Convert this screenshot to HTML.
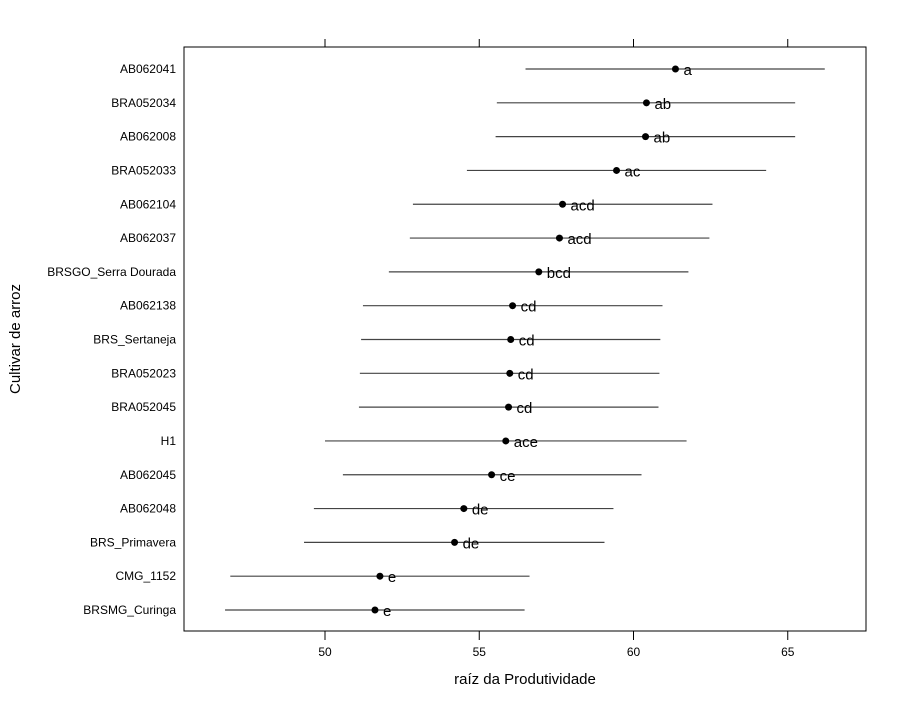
<!DOCTYPE html>
<html><head><meta charset="utf-8"><style>
body{margin:0;background:#fff;}
svg text{font-family:"Liberation Sans",sans-serif;}
</style></head><body>
<svg id="chart" width="900" height="700" xmlns="http://www.w3.org/2000/svg">
<rect x="0" y="0" width="900" height="700" fill="#fff"/>
<rect x="184" y="47" width="682" height="584" fill="none" stroke="#000" stroke-width="1"/>
<g id="ticks"></g>
<g id="marks"></g>
<text x="525" y="684" font-size="15" text-anchor="middle">raíz da Produtividade</text>
<text x="20" y="339" font-size="15" text-anchor="middle" transform="rotate(-90 20 339)">Cultivar de arroz</text>
</svg>
<script>
const cultivars=["AB062041","BRA052034","AB062008","BRA052033","AB062104","AB062037","BRSGO_Serra Dourada","AB062138","BRS_Sertaneja","BRA052023","BRA052045","H1","AB062045","AB062048","BRS_Primavera","CMG_1152","BRSMG_Curinga"];
const means=[61.36,60.42,60.39,59.45,57.7,57.6,56.93,56.08,56.02,55.99,55.95,55.86,55.4,54.5,54.2,51.78,51.62];
const lower=[56.5,55.57,55.53,54.6,52.85,52.75,52.07,51.23,51.17,51.13,51.1,50.0,50.58,49.64,49.32,46.93,46.76];
const upper=[66.2,65.24,65.24,64.3,62.56,62.46,61.78,60.94,60.87,60.84,60.81,61.72,60.26,59.35,59.06,56.63,56.47];
const groups=["a","ab","ab","ac","acd","acd","bcd","cd","cd","cd","cd","ace","ce","de","de","e","e"];
const xTicks=[50,55,60,65];
const NS="http://www.w3.org/2000/svg";
function xs(v){return 325+(v-50)*30.85;}
function ys(i){return 69+i*(541/(cultivars.length-1));}
function mk(t,a,p){const e=document.createElementNS(NS,t);for(const k in a)e.setAttribute(k,a[k]);p.appendChild(e);return e;}
const tg=document.getElementById('ticks'),mg=document.getElementById('marks');
xTicks.forEach(t=>{
 const a=mk('line',{x1:xs(t),x2:xs(t),y1:631,y2:640,stroke:'#000'},tg);
 
 
 const b=mk('line',{x1:xs(t),x2:xs(t),y1:39,y2:47,stroke:'#000'},tg);
 
 
 const l=mk('text',{x:xs(t),y:656,'font-size':12,'text-anchor':'middle'},tg);
 l.textContent=t;
 
 
});
cultivars.forEach((c,i)=>{
 const y=ys(i);
 const lab=mk('text',{x:176,y:y+4,'font-size':12,'text-anchor':'end'},mg);
 lab.textContent=c;
 
 
 const ln=mk('line',{x1:xs(lower[i]),x2:xs(upper[i]),y1:y,y2:y,stroke:'#444','stroke-width':1.2},mg);
 
 
 const pt=mk('circle',{cx:xs(means[i]),cy:y,r:3.5,fill:'#000'},mg);
 
 
 const g=mk('text',{x:xs(means[i])+8,y:y+6,'font-size':15},mg);
 g.textContent=groups[i];
 
 
});
</script>
</body></html>
